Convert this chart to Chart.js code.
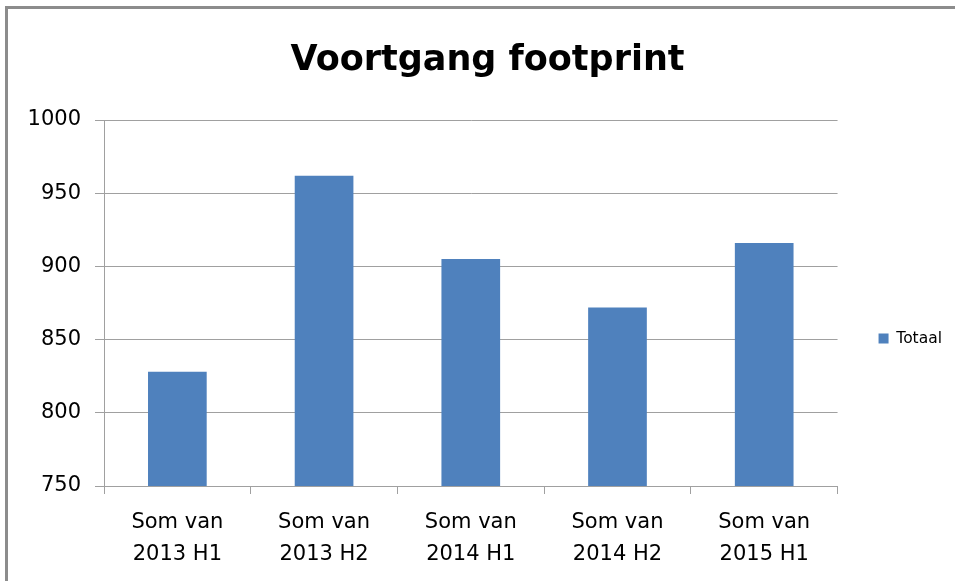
<!DOCTYPE html>
<html>
<head>
<meta charset="utf-8">
<script src="https://cdn.jsdelivr.net/npm/chart.js@4.4.1/dist/chart.umd.min.js"></script>
<style>
  html, body { margin: 0; padding: 0; background: #fff; }
  #wrap { position: relative; width: 955px; height: 581px; overflow: hidden; }
  #c { position: absolute; left: 0; top: 0; }
  #frame { position: absolute; left: 5px; top: 6px; width: 1000px; height: 700px;
           border-left: 3px solid #8c8c8c; border-top: 3px solid #8c8c8c; pointer-events: none; }
</style>
</head>
<body>
<div id="wrap">
  <canvas id="c" width="955" height="581"></canvas>
  <div id="frame"></div>
</div>
<script>
const categories = [
  ["Som van", "2013 H1"],
  ["Som van", "2013 H2"],
  ["Som van", "2014 H1"],
  ["Som van", "2014 H2"],
  ["Som van", "2015 H1"]
];
const totaal = [828, 962, 905, 872, 916];
const seriesName = "Totaal";
const chartTitle = "Voortgang footprint";
const yMin = 750, yMax = 1000, yStep = 50;

const LEGEND_DX = 31, LEGEND_DY = 48, TITLE_DX = 27;
const shiftBoxes = {
  id: 'shiftBoxes',
  afterUpdate(chart) {
    const lg = chart.legend;
    if (lg) {
      lg.left += LEGEND_DX; lg.right += LEGEND_DX;
      lg.top += LEGEND_DY; lg.bottom += LEGEND_DY;
    }
    const tb = chart.titleBlock;
    if (tb) { tb.left += TITLE_DX; tb.right += TITLE_DX; }
  }
};

const gridCol = '#a0a0a0';
const font = 'DejaVu Sans';

new Chart(document.getElementById('c'), {
  type: 'bar',
  data: {
    labels: categories,
    datasets: [{
      label: seriesName,
      data: totaal,
      backgroundColor: '#4f81bd',
      borderWidth: 0,
      categoryPercentage: 0.8,
      barPercentage: 0.5
    }]
  },
  options: {
    responsive: false,
    animation: false,
    events: [],
    layout: { padding: { left: 0, right: 34, top: 0, bottom: 0 } },
    plugins: {
      title: {
        display: true,
        text: chartTitle,
        color: '#000',
        font: { family: font, size: 35, weight: 'bold', lineHeight: 1.2 },
        padding: { top: 40, bottom: 38 }
      },
      legend: {
        display: true,
        position: 'right',
        labels: {
          color: '#000',
          font: { family: font, size: 15.5 },
          boxWidth: 10,
          boxHeight: 10,
          padding: 10
        }
      },
      tooltip: { enabled: false }
    },
    scales: {
      x: {
        offset: true,
        grid: { display: true, offset: true, drawOnChartArea: false, drawTicks: true, tickLength: 8, color: gridCol },
        border: { display: true, color: gridCol },
        ticks: { color: '#000', font: { family: font, size: 21, lineHeight: 1.5 }, padding: 13, maxRotation: 0 },
        afterFit(s) { s.height = 95; }
      },
      y: {
        min: yMin, max: yMax,
        ticks: { stepSize: yStep, color: '#000', font: { family: font, size: 21 }, padding: 14,
                 callback: (v) => String(v) },
        grid: { color: gridCol, tickLength: 9, drawTicks: true },
        border: { display: true, color: gridCol },
        afterFit(s) { s.width = 104; }
      }
    }
  },
  plugins: [shiftBoxes]
});
</script>
</body>
</html>
